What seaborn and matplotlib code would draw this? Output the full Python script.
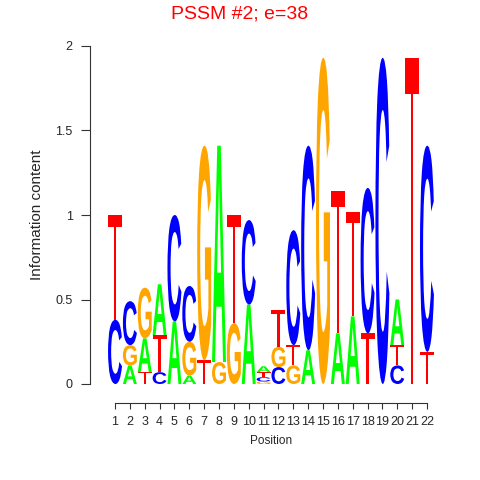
import numpy as np
import pandas as pd
import seaborn as sns
import matplotlib
matplotlib.use("Agg")
import matplotlib.pyplot as plt
from matplotlib.textpath import TextPath
from matplotlib.patches import PathPatch
from matplotlib.font_manager import FontProperties
from matplotlib.transforms import Affine2D

positions = list(range(1, 23))
A = [0.00, 0.11, 0.20, 0.30, 0.37, 0.05, 0.00, 1.28, 0.00, 0.47, 0.035, 0.00,
     0.00, 0.20, 0.00, 0.30, 0.40, 0.00, 0.00, 0.27, 0.00, 0.00]
C = [0.38, 0.26, 0.00, 0.07, 0.63, 0.33, 0.00, 0.00, 0.00, 0.50, 0.025, 0.10,
     0.68, 1.21, 0.00, 0.00, 0.00, 0.86, 1.93, 0.11, 0.00, 1.22]
G = [0.00, 0.12, 0.30, 0.00, 0.00, 0.20, 1.27, 0.13, 0.36, 0.00, 0.015, 0.12,
     0.11, 0.00, 1.93, 0.00, 0.00, 0.00, 0.00, 0.00, 0.00, 0.00]
T = [0.62, 0.00, 0.07, 0.22, 0.00, 0.00, 0.14, 0.00, 0.64, 0.00, 0.03, 0.22,
     0.12, 0.00, 0.00, 0.84, 0.62, 0.30, 0.00, 0.12, 1.93, 0.19]
letters = ["A", "C", "G", "T"]
colors = {"A": "#00FF00", "C": "#0000FF", "G": "#FFA500", "T": "#FF0000"}
title = "PSSM #2; e=38"
yticks = [0, 0.5, 1, 1.5, 2]
ytick_labels = ["0", "0.5", "1", "1.5", "2"]

df = pd.DataFrame({"pos": positions, "A": A, "C": C, "G": G, "T": T})

sns.set_style("ticks")
plt.rcParams["font.family"] = ["Liberation Sans", "DejaVu Sans"]

fig = plt.figure(figsize=(4.8, 4.8), dpi=100)
W = H = 480.0
x0, x1 = 107.6, 434.4
y0, y1 = 384.0, 46.0
ax = fig.add_axes([x0 / W, (H - y0) / H, (x1 - x0) / W, (y0 - y1) / H])
ax.set_xlim(0.5, 22.5)
ax.set_ylim(0, 2)

fp_bold = FontProperties(family="Liberation Sans", weight="bold")
fp_reg = FontProperties(family="Liberation Sans", weight="normal")
glyphs = {l: TextPath((0, 0), l, size=1, prop=(fp_reg if l == "T" else fp_bold))
          for l in letters}

width = 0.94
for _, row in df.iterrows():
    p = row["pos"]
    items = sorted([(row[l], l) for l in letters if row[l] > 0])
    base = 0.0
    for h, l in items:
        path = glyphs[l]
        bb = path.get_extents()
        tr = (Affine2D()
              .translate(-bb.x0, -bb.y0)
              .scale(width / bb.width, h / bb.height)
              .translate(p - width / 2, base))
        patch = PathPatch(tr.transform_path(path), facecolor=colors[l],
                          edgecolor="none", transform=ax.transData)
        ax.add_patch(patch)
        base += h

sns.despine(ax=ax, offset={"left": 12.7, "bottom": 13.7})
ax.spines["left"].set_bounds(0, 2)
ax.spines["bottom"].set_bounds(1, 22)
for s in ["left", "bottom"]:
    ax.spines[s].set_color("#333333")
    ax.spines[s].set_linewidth(0.8)

ax.set_xticks(positions)
ax.set_xticklabels([str(p) for p in positions], fontsize=9)
ax.set_yticks(yticks)
ax.set_yticklabels(ytick_labels, fontsize=9)
ax.tick_params(axis="x", length=4.3, width=0.8, color="#333333", pad=5)
ax.tick_params(axis="y", length=6.5, width=0.8, color="#333333", pad=6)
ax.set_xlabel("Position", fontsize=8.5, labelpad=5)
ax.set_ylabel("Information content", fontsize=11, labelpad=8)
ax.set_title(title, color="#FF0000", fontsize=14, pad=20)
ax.title.set_position((0.403, 1.0))

fig.savefig("out.png", dpi=100)
